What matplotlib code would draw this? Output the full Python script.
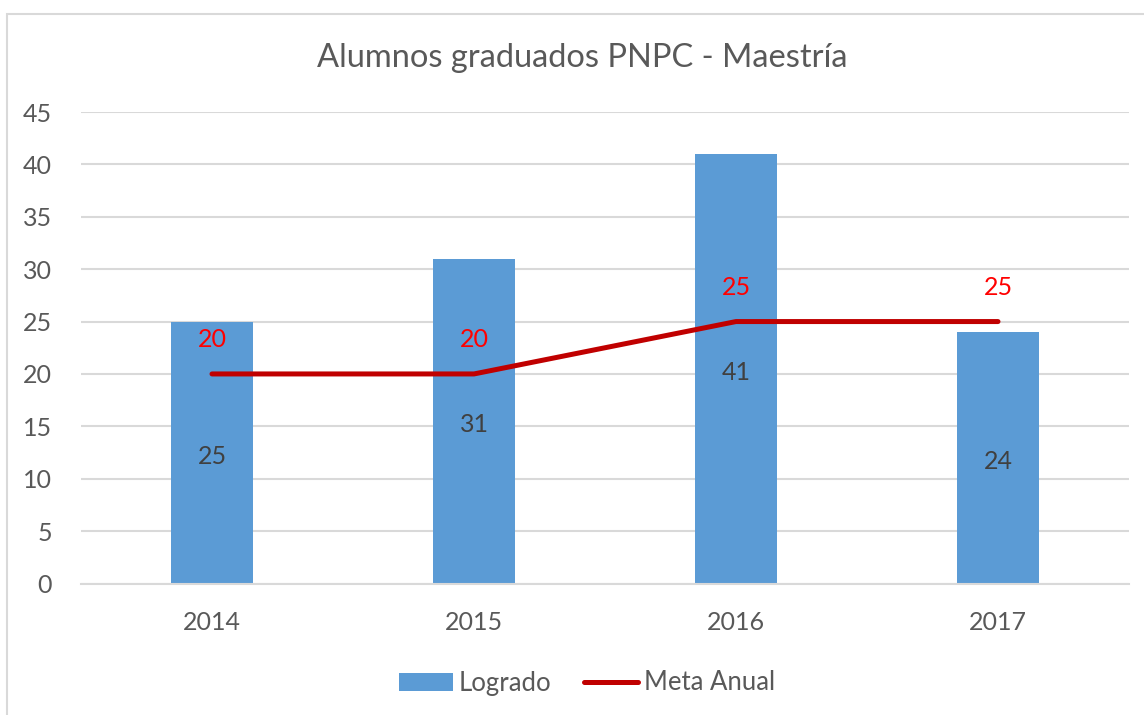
import matplotlib.pyplot as plt
from matplotlib.patches import Rectangle

years = ["2014", "2015", "2016", "2017"]
logrado = [25, 31, 41, 24]
meta_anual = [20, 20, 25, 25]

plt.rcParams["font.family"] = ["Lato", "DejaVu Sans"]
text_color = "#595959"
bar_color = "#5B9BD5"
line_color = "#C00000"

fig = plt.figure(figsize=(11.44, 7.15), dpi=100)
W, H = 1144, 715

# outer chart border (cut off at right and bottom like the source)
fig.patches.append(Rectangle((7 / W, -0.01), 1.05, 1 - 14 / H + 0.01,
                             transform=fig.transFigure, fill=False,
                             edgecolor="#d9d9d9", linewidth=1.5))

ax = fig.add_axes([81 / W, 1 - 583.5 / H, (1129 - 81) / W, (583.5 - 112) / H])
x = list(range(len(years)))

bars = ax.bar(x, logrado, width=82 / 262, color=bar_color, zorder=2,
              label="Logrado")
line, = ax.plot(x, meta_anual, color=line_color, linewidth=3.6,
                solid_capstyle="round", zorder=3, label="Meta Anual")

for xi, v in zip(x, logrado):
    ax.text(xi, v / 2 - 0.35, str(v), ha="center", va="center", fontsize=18,
            color="#404040", zorder=4)
for xi, v in zip(x, meta_anual):
    ax.text(xi, v + 3.25, str(v), ha="center", va="center", fontsize=18,
            color="#FF0000", zorder=4)

ax.set_xlim(-0.5, 3.5)
ax.set_ylim(0, 45)
ax.set_yticks(range(0, 46, 5))
ax.set_xticks(x)
ax.set_xticklabels(years)
ax.grid(axis="y", color="#d9d9d9", linewidth=1.5, zorder=0)
ax.set_axisbelow(True)
for s in ["top", "right", "left"]:
    ax.spines[s].set_visible(False)
ax.spines["bottom"].set_color("#d9d9d9")
ax.spines["bottom"].set_linewidth(1.5)
ax.tick_params(axis="both", length=0, labelsize=18, colors=text_color)
ax.tick_params(axis="y", pad=21)
ax.tick_params(axis="x", pad=20)

fig.text(582 / W, 1 - 58 / H, "Alumnos graduados PNPC - Maestría",
         ha="center", va="center", fontsize=23.5, color=text_color)

fig.legend(handles=[bars, line], labels=["Logrado", "Meta Anual"],
           loc="center", bbox_to_anchor=(587 / W, 1 - 683 / H), ncol=2,
           frameon=False, fontsize=18.5, labelcolor=text_color,
           handlelength=2.1, handletextpad=0.2, columnspacing=1.3)

fig.savefig("out.png", dpi=100)
